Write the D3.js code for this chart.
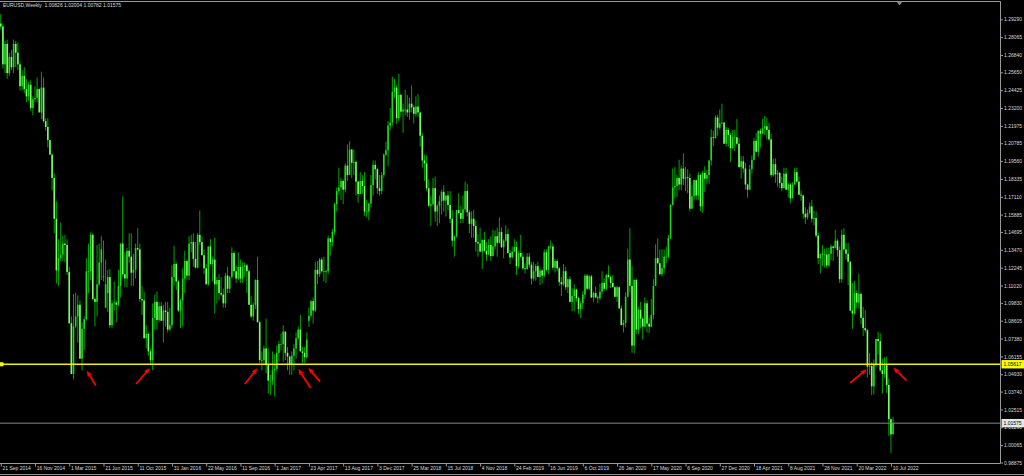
<!DOCTYPE html>
<html lang="en">
<head>
  <meta charset="UTF-8">
  <title>EURUSD Weekly</title>
  <script src="https://d3js.org/d3.v7.min.js"></script>
  <style>
    html, body {
      margin: 0;
      padding: 0;
      background: #000;
    }
    svg { display: block; }
    text { font-family: "Liberation Sans", Arial, sans-serif; }
  </style>
</head>
<body>
  <div id="container"></div>
  <script>
    // weekly OHLC, bar index 0 .. 417
    const opens = [
      1.2900,1.2880,1.2620,1.2760,1.2560,1.2670,1.2600,1.2760,1.2700,1.2620,
      1.2470,1.2540,1.2450,1.2400,1.2480,1.2320,1.2380,1.2390,1.2450,1.2290,
      1.2460,1.2230,1.2190,1.2100,1.2000,1.1840,1.1560,1.1205,1.1290,1.1315,
      1.1390,1.1380,1.1195,1.0843,1.0495,1.0822,1.0890,1.0970,1.0600,1.0805,
      1.0870,1.1200,1.1200,1.1450,1.1010,1.0990,1.1110,1.1260,1.1160,1.0950,
      1.1050,1.1160,1.0830,1.0980,1.0985,1.0970,1.1100,1.1390,1.1180,1.1150,
      1.1340,1.1300,1.1190,1.1210,1.1360,1.1350,1.1010,1.1000,1.0740,1.0770,
      1.0650,1.0590,1.0880,1.0990,1.0865,1.0960,1.0860,1.0930,1.0920,1.0800,
      1.0830,1.1160,1.1250,1.1130,1.0930,1.1000,1.1150,1.1270,1.1170,1.1390,
      1.1400,1.1285,1.1225,1.1450,1.1400,1.1310,1.1220,1.1110,1.1370,1.1250,
      1.1280,1.1110,1.1140,1.1050,1.1040,1.0980,1.1170,1.1080,1.1160,1.1325,
      1.1200,1.1150,1.1230,1.1150,1.1230,1.1240,1.1200,1.0970,1.0890,1.0970,
      1.1140,1.0850,1.0590,1.0590,1.0670,1.0560,1.0450,1.0450,1.0520,1.0530,
      1.0640,1.0700,1.0700,1.0785,1.0640,1.0615,1.0560,1.0620,1.0670,1.0740,
      1.0800,1.0650,1.0640,1.0610,1.0860,1.0895,1.0995,1.0930,1.1210,1.1180,
      1.1280,1.1200,1.1200,1.1200,1.1425,1.1400,1.1470,1.1660,1.1750,1.1775,
      1.1820,1.1760,1.1925,1.1860,1.2035,1.1945,1.1950,1.1815,1.1730,1.1820,
      1.1785,1.1610,1.1610,1.1665,1.1790,1.1930,1.1900,1.1770,1.1750,1.1860,
      1.2000,1.2030,1.2200,1.2220,1.2430,1.2460,1.2250,1.2410,1.2295,1.2310,
      1.2310,1.2290,1.2350,1.2325,1.2280,1.2330,1.2290,1.2130,1.1960,1.1940,
      1.1770,1.1650,1.1660,1.1770,1.1610,1.1650,1.1680,1.1745,1.1685,1.1720,
      1.1655,1.1560,1.1410,1.1440,1.1620,1.1600,1.1560,1.1625,1.1750,1.1605,
      1.1525,1.1560,1.1510,1.1400,1.1390,1.1335,1.1415,1.1340,1.1315,1.1380,
      1.1305,1.1370,1.1440,1.1395,1.1470,1.1365,1.1410,1.1455,1.1325,1.1295,
      1.1335,1.1365,1.1235,1.1325,1.1300,1.1220,1.1215,1.1300,1.1245,1.1150,
      1.1200,1.1235,1.1160,1.1205,1.1170,1.1330,1.1210,1.1370,1.1370,1.1225,
      1.1270,1.1220,1.1125,1.1110,1.1200,1.1090,1.1145,1.0990,1.1030,1.1075,
      1.1015,1.0940,1.0980,1.1040,1.1170,1.1080,1.1165,1.1020,1.1050,1.1020,
      1.1015,1.1060,1.1120,1.1080,1.1175,1.1160,1.1120,1.1090,1.1025,1.1090,
      1.0945,1.0830,1.0845,1.1025,1.1280,1.1100,1.0690,1.1140,1.0800,1.0935,
      1.0875,1.0820,1.0980,1.0840,1.0820,1.0900,1.1100,1.1290,1.1255,1.1180,
      1.1220,1.1300,1.1300,1.1430,1.1655,1.1775,1.1785,1.1840,1.1795,1.1905,
      1.1835,1.1845,1.1840,1.1630,1.1715,1.1825,1.1720,1.1860,1.1645,1.1875,
      1.1835,1.1860,1.1960,1.2120,1.2115,1.2255,1.2185,1.2215,1.2220,1.2075,
      1.2170,1.2135,1.2045,1.2120,1.2120,1.2075,1.1915,1.1955,1.1905,1.1795,
      1.1760,1.1900,1.1965,1.2095,1.2020,1.2165,1.2145,1.2180,1.2195,1.2170,
      1.2105,1.1860,1.1935,1.1865,1.1875,1.1805,1.1770,1.1870,1.1760,1.1795,
      1.1700,1.1795,1.1880,1.1815,1.1725,1.1720,1.1595,1.1570,1.1600,1.1645,
      1.1560,1.1565,1.1445,1.1290,1.1320,1.1315,1.1315,1.1240,1.1320,1.1370,
      1.1360,1.1410,1.1345,1.1145,1.1450,1.1350,1.1320,1.1265,1.0930,1.0910,
      1.1050,1.0985,1.1045,1.0880,1.0810,1.0795,1.0545,1.0550,1.0410,1.0560,
      1.0735,1.0720,1.0520,1.0495,1.0555,1.0420,1.0185,1.00826
    ];
    const highs = [
      1.2965,1.2900,1.2780,1.2790,1.2700,1.2720,1.2790,1.2780,1.2770,1.2640,
      1.2580,1.2600,1.2520,1.2500,1.2510,1.2400,1.2470,1.2530,1.2455,1.2570,
      1.2530,1.2250,1.2250,1.2100,1.2010,1.1870,1.1680,1.1420,1.1535,1.1445,
      1.1450,1.1420,1.1230,1.0890,1.1043,1.1052,1.1035,1.1000,1.0850,1.0890,
      1.1290,1.1390,1.1467,1.1460,1.1020,1.1380,1.1390,1.1440,1.1410,1.1280,
      1.1210,1.1215,1.1000,1.1130,1.1000,1.1210,1.1390,1.1714,1.1330,1.1360,
      1.1460,1.1460,1.1320,1.1390,1.1495,1.1390,1.1100,1.1060,1.0830,1.0780,
      1.0670,1.0980,1.1040,1.1060,1.0990,1.0990,1.0970,1.0990,1.0990,1.0950,
      1.1240,1.1375,1.1260,1.1140,1.1010,1.1220,1.1340,1.1280,1.1440,1.1450,
      1.1460,1.1400,1.1460,1.1616,1.1440,1.1350,1.1250,1.1370,1.1420,1.1300,
      1.1430,1.1160,1.1180,1.1160,1.1080,1.1190,1.1230,1.1170,1.1365,1.1340,
      1.1240,1.1330,1.1280,1.1260,1.1260,1.1250,1.1210,1.1030,1.0985,1.1145,
      1.1300,1.0860,1.0650,1.0690,1.0875,1.0670,1.0490,1.0650,1.0630,1.0690,
      1.0720,1.0775,1.0830,1.0790,1.0680,1.0620,1.0650,1.0700,1.0780,1.0820,
      1.0900,1.0680,1.0680,1.0780,1.0950,1.1000,1.1020,1.1265,1.1270,1.1290,
      1.1295,1.1300,1.1210,1.1445,1.1430,1.1490,1.1670,1.1775,1.1910,1.1840,
      1.1830,1.1940,1.2070,1.2092,1.2040,1.2035,1.1960,1.1820,1.1880,1.1860,
      1.1880,1.1690,1.1670,1.1860,1.1960,1.1960,1.1910,1.1860,1.1880,1.2010,
      1.2090,1.2230,1.2320,1.2535,1.2520,1.2480,1.2555,1.2420,1.2350,1.2445,
      1.2410,1.2390,1.2475,1.2340,1.2400,1.2415,1.2290,1.2150,1.2000,1.1995,
      1.1830,1.1720,1.1840,1.1850,1.1660,1.1720,1.1760,1.1790,1.1720,1.1750,
      1.1750,1.1620,1.1445,1.1620,1.1735,1.1650,1.1720,1.1815,1.1800,1.1620,
      1.1610,1.1620,1.1550,1.1455,1.1500,1.1420,1.1470,1.1400,1.1420,1.1440,
      1.1485,1.1480,1.1500,1.1570,1.1500,1.1420,1.1515,1.1490,1.1345,1.1370,
      1.1420,1.1405,1.1340,1.1450,1.1325,1.1255,1.1325,1.1325,1.1265,1.1265,
      1.1250,1.1265,1.1215,1.1215,1.1350,1.1350,1.1375,1.1410,1.1390,1.1285,
      1.1285,1.1230,1.1160,1.1250,1.1230,1.1150,1.1165,1.1085,1.1110,1.1080,
      1.1025,1.0995,1.1065,1.1180,1.1180,1.1175,1.1175,1.1060,1.1095,1.1035,
      1.1115,1.1200,1.1150,1.1180,1.1240,1.1170,1.1175,1.1100,1.1100,1.1095,
      1.0965,1.0865,1.1055,1.1355,1.1495,1.1235,1.1145,1.1150,1.0955,1.0990,
      1.0890,1.1020,1.1000,1.0880,1.1010,1.1145,1.1385,1.1425,1.1350,1.1350,
      1.1350,1.1370,1.1450,1.1660,1.1905,1.1915,1.1865,1.1965,1.1925,1.2010,
      1.1915,1.1900,1.1870,1.1790,1.1830,1.1830,1.1880,1.1870,1.1890,1.1920,
      1.1895,1.1965,1.2175,1.2165,1.2270,1.2275,1.2310,1.2350,1.2225,1.2190,
      1.2185,1.2150,1.2170,1.2170,1.2245,1.2115,1.1990,1.1990,1.1945,1.1800,
      1.1930,1.1995,1.2115,1.2150,1.2165,1.2180,1.2245,1.2265,1.2255,1.2220,
      1.2145,1.1975,1.1975,1.1895,1.1880,1.1850,1.1910,1.1910,1.1805,1.1805,
      1.1810,1.1910,1.1910,1.1850,1.1755,1.1725,1.1640,1.1625,1.1670,1.1690,
      1.1615,1.1610,1.1465,1.1320,1.1380,1.1355,1.1360,1.1360,1.1385,1.1375,
      1.1485,1.1420,1.1370,1.1485,1.1495,1.1395,1.1395,1.1270,1.1120,1.1135,
      1.1070,1.1185,1.1055,1.0955,1.0935,1.0805,1.0640,1.0575,1.0595,1.0735,
      1.0785,1.0775,1.0600,1.0610,1.0615,1.0465,1.0190,1.02004
    ];
    const lows = [
      1.2860,1.2590,1.2560,1.2520,1.2540,1.2580,1.2560,1.2600,1.2580,1.2440,
      1.2440,1.2420,1.2360,1.2370,1.2300,1.2270,1.2360,1.2360,1.2290,1.2245,
      1.2220,1.2165,1.2050,1.2000,1.1755,1.1460,1.1115,1.1100,1.1270,1.1270,
      1.1260,1.1175,1.0840,1.0494,1.0457,1.0810,1.0710,1.0600,1.0520,1.0660,
      1.0860,1.1050,1.1140,1.1000,1.0820,1.0890,1.1100,1.1140,1.1130,1.0950,
      1.0920,1.0810,1.0810,1.0930,1.0850,1.0960,1.1020,1.1160,1.1090,1.1090,
      1.1260,1.1100,1.1100,1.1150,1.1340,1.0990,1.0900,1.0740,1.0670,1.0620,
      1.0560,1.0520,1.0800,1.0800,1.0850,1.0860,1.0710,1.0820,1.0780,1.0790,
      1.0810,1.1100,1.1070,1.0920,1.0810,1.0820,1.1050,1.1140,1.1140,1.1330,
      1.1230,1.1220,1.1220,1.1380,1.1310,1.1180,1.1110,1.1100,1.1240,1.1130,
      1.0910,1.0980,1.1000,1.1030,1.0950,1.0950,1.1050,1.1050,1.1150,1.1170,
      1.1120,1.1140,1.1120,1.1120,1.1160,1.1050,1.0970,1.0880,1.0860,1.0940,
      1.0850,1.0570,1.0520,1.0560,1.0500,1.0360,1.0350,1.0420,1.0340,1.0510,
      1.0580,1.0660,1.0580,1.0590,1.0520,1.0490,1.0490,1.0520,1.0600,1.0730,
      1.0650,1.0570,1.0570,1.0600,1.0820,1.0880,1.0840,1.0920,1.1110,1.1160,
      1.1190,1.1130,1.1120,1.1180,1.1310,1.1370,1.1450,1.1610,1.1725,1.1690,
      1.1660,1.1740,1.1820,1.1860,1.1840,1.1860,1.1720,1.1670,1.1730,1.1730,
      1.1580,1.1570,1.1550,1.1640,1.1720,1.1830,1.1730,1.1720,1.1730,1.1840,
      1.1990,1.1920,1.2170,1.2200,1.2390,1.2210,1.2230,1.2260,1.2150,1.2270,
      1.2260,1.2240,1.2290,1.2215,1.2260,1.2260,1.2055,1.1910,1.1820,1.1750,
      1.1640,1.1510,1.1650,1.1540,1.1510,1.1530,1.1590,1.1610,1.1575,1.1620,
      1.1530,1.1370,1.1300,1.1430,1.1590,1.1530,1.1530,1.1610,1.1575,1.1460,
      1.1430,1.1430,1.1335,1.1300,1.1330,1.1215,1.1330,1.1270,1.1310,1.1270,
      1.1300,1.1350,1.1300,1.1390,1.1360,1.1290,1.1400,1.1320,1.1250,1.1290,
      1.1330,1.1175,1.1220,1.1290,1.1210,1.1185,1.1210,1.1225,1.1110,1.1135,
      1.1135,1.1160,1.1105,1.1115,1.1160,1.1200,1.1180,1.1350,1.1210,1.1190,
      1.1200,1.1100,1.1030,1.1100,1.1070,1.1050,1.0985,1.0925,1.0925,1.0990,
      1.0905,1.0880,1.0940,1.1010,1.1070,1.1070,1.1015,1.0990,1.1015,1.0980,
      1.1000,1.1040,1.1065,1.1070,1.1150,1.1085,1.1090,1.1020,1.0990,1.0945,
      1.0830,1.0780,1.0815,1.1020,1.1055,1.0640,1.0635,1.0770,1.0770,1.0810,
      1.0730,1.0815,1.0780,1.0775,1.0815,1.0870,1.1100,1.1250,1.1170,1.1165,
      1.1185,1.1255,1.1290,1.1420,1.1650,1.1700,1.1710,1.1755,1.1755,1.1790,
      1.1750,1.1735,1.1610,1.1625,1.1690,1.1690,1.1690,1.1610,1.1600,1.1745,
      1.1800,1.1800,1.1925,1.2060,1.2110,1.2130,1.2170,1.2210,1.2075,1.2055,
      1.2055,1.1950,1.2040,1.2025,1.2065,1.1910,1.1835,1.1875,1.1760,1.1705,
      1.1755,1.1870,1.1960,1.2015,1.1985,1.2050,1.2140,1.2135,1.2105,1.2095,
      1.1845,1.1850,1.1805,1.1780,1.1770,1.1750,1.1770,1.1760,1.1705,1.1665,
      1.1700,1.1790,1.1805,1.1725,1.1685,1.1560,1.1525,1.1555,1.1590,1.1535,
      1.1515,1.1430,1.1250,1.1185,1.1235,1.1225,1.1220,1.1230,1.1275,1.1270,
      1.1355,1.1300,1.1120,1.1120,1.1340,1.1280,1.1105,1.0925,1.0805,1.0900,
      1.0945,1.0945,1.0835,1.0755,1.0780,1.0470,1.0490,1.0350,1.0355,1.0545,
      1.0630,1.0510,1.0360,1.0470,1.0365,1.0070,0.9952,1.00782
    ];
    const closes = [
      1.2880,1.2620,1.2760,1.2560,1.2670,1.2600,1.2760,1.2700,1.2620,1.2470,
      1.2540,1.2450,1.2400,1.2480,1.2320,1.2380,1.2390,1.2450,1.2290,1.2460,
      1.2230,1.2190,1.2100,1.2000,1.1840,1.1560,1.1205,1.1290,1.1315,1.1390,
      1.1380,1.1195,1.0843,1.0495,1.0822,1.0890,1.0970,1.0600,1.0805,1.0870,
      1.1200,1.1200,1.1450,1.1010,1.0990,1.1110,1.1260,1.1350,1.1165,1.1110,
      1.1160,1.0830,1.0980,1.0985,1.0970,1.1100,1.1390,1.1180,1.1150,1.1340,
      1.1300,1.1190,1.1210,1.1360,1.1350,1.1010,1.1000,1.0740,1.0770,1.0650,
      1.0590,1.0880,1.0990,1.0865,1.0960,1.0860,1.0930,1.0920,1.0800,1.0830,
      1.1160,1.1250,1.1130,1.0930,1.1000,1.1150,1.1270,1.1170,1.1390,1.1400,
      1.1285,1.1225,1.1450,1.1400,1.1310,1.1220,1.1110,1.1370,1.1250,1.1280,
      1.1110,1.1140,1.1050,1.1040,1.0980,1.1170,1.1080,1.1160,1.1325,1.1200,
      1.1150,1.1230,1.1150,1.1230,1.1240,1.1200,1.0970,1.0890,1.0970,1.1140,
      1.0850,1.0590,1.0590,1.0670,1.0560,1.0450,1.0450,1.0520,1.0530,1.0640,
      1.0700,1.0700,1.0785,1.0640,1.0615,1.0560,1.0620,1.0670,1.0740,1.0800,
      1.0650,1.0640,1.0610,1.0730,1.0895,1.0995,1.0930,1.1210,1.1180,1.1280,
      1.1200,1.1200,1.1200,1.1425,1.1400,1.1470,1.1660,1.1750,1.1775,1.1820,
      1.1760,1.1925,1.1860,1.2035,1.1945,1.1950,1.1815,1.1730,1.1820,1.1785,
      1.1610,1.1610,1.1665,1.1790,1.1930,1.1900,1.1770,1.1750,1.1860,1.2000,
      1.2030,1.2200,1.2220,1.2430,1.2460,1.2250,1.2410,1.2295,1.2310,1.2310,
      1.2290,1.2350,1.2325,1.2280,1.2330,1.2290,1.2130,1.1960,1.1940,1.1770,
      1.1650,1.1660,1.1770,1.1610,1.1650,1.1680,1.1745,1.1685,1.1720,1.1655,
      1.1560,1.1410,1.1440,1.1620,1.1600,1.1560,1.1625,1.1750,1.1605,1.1525,
      1.1560,1.1510,1.1400,1.1390,1.1335,1.1415,1.1340,1.1315,1.1380,1.1305,
      1.1370,1.1440,1.1395,1.1470,1.1365,1.1410,1.1455,1.1325,1.1295,1.1335,
      1.1365,1.1235,1.1325,1.1300,1.1220,1.1215,1.1300,1.1245,1.1150,1.1200,
      1.1235,1.1160,1.1205,1.1170,1.1330,1.1210,1.1370,1.1370,1.1225,1.1270,
      1.1220,1.1125,1.1110,1.1200,1.1090,1.1145,1.0990,1.1030,1.1075,1.1015,
      1.0940,1.0980,1.1040,1.1170,1.1080,1.1165,1.1020,1.1050,1.1020,1.1015,
      1.1060,1.1120,1.1080,1.1175,1.1160,1.1120,1.1090,1.1025,1.1090,1.0945,
      1.0830,1.0845,1.1025,1.1280,1.1100,1.0690,1.1140,1.0800,1.0935,1.0875,
      1.0820,1.0980,1.0840,1.0820,1.0900,1.1100,1.1290,1.1255,1.1180,1.1220,
      1.1300,1.1300,1.1430,1.1655,1.1775,1.1785,1.1840,1.1795,1.1905,1.1835,
      1.1845,1.1840,1.1630,1.1715,1.1825,1.1720,1.1860,1.1645,1.1875,1.1835,
      1.1860,1.1960,1.2120,1.2115,1.2255,1.2185,1.2215,1.2220,1.2075,1.2170,
      1.2135,1.2045,1.2120,1.2120,1.2075,1.1915,1.1955,1.1905,1.1795,1.1760,
      1.1900,1.1965,1.2095,1.2020,1.2165,1.2145,1.2180,1.2195,1.2170,1.2105,
      1.1860,1.1935,1.1865,1.1875,1.1805,1.1770,1.1870,1.1760,1.1795,1.1700,
      1.1795,1.1880,1.1815,1.1725,1.1720,1.1595,1.1570,1.1600,1.1645,1.1560,
      1.1565,1.1445,1.1290,1.1320,1.1315,1.1315,1.1240,1.1320,1.1370,1.1360,
      1.1410,1.1345,1.1145,1.1450,1.1350,1.1320,1.1265,1.0930,1.0910,1.1050,
      1.0985,1.1045,1.0880,1.0810,1.0795,1.0545,1.0550,1.0410,1.0560,1.0735,
      1.0720,1.0520,1.0495,1.0555,1.0420,1.0185,1.0080,1.01575
    ];

    const priceTicks = [1.29290, 1.28065, 1.26840, 1.25650, 1.24425, 1.23200, 1.21975,
      1.20785, 1.19560, 1.18335, 1.17110, 1.15885, 1.14695, 1.13470, 1.12245, 1.11020,
      1.09830, 1.08605, 1.07380, 1.06155, 1.04930, 1.03740, 1.02515, 1.01290, 1.00065, 0.98875];

    const dateLabels = ['21 Sep 2014', '16 Nov 2014', '1 Mar 2015', '21 Jun 2015', '11 Oct 2015',
      '31 Jan 2016', '22 May 2016', '11 Sep 2016', '1 Jan 2017', '23 Apr 2017', '13 Aug 2017',
      '3 Dec 2017', '25 Mar 2018', '15 Jul 2018', '4 Nov 2018', '24 Feb 2019', '16 Jun 2019',
      '6 Oct 2019', '26 Jan 2020', '17 May 2020', '6 Sep 2020', '27 Dec 2020', '18 Apr 2021',
      '8 Aug 2021', '28 Nov 2021', '20 Mar 2022', '10 Jul 2022'];
    const dateTickBars = [0, 16, 32, 48, 64, 80, 96, 112, 128, 144, 160, 176, 192, 208, 224,
      240, 256, 272, 288, 304, 320, 336, 352, 368, 384, 400, 416];

    const title = 'EURUSD,Weekly  1.00826 1.02004 1.00782 1.01575';
    const supportLevel = 1.05617;
    const bidLevel = 1.01575;

    // red arrows: [bar, price] of tail and tip
    const arrowTails = [[44.4, 1.0415], [63.2, 1.0426], [114.1, 1.0426], [144.8, 1.0399],
      [149.2, 1.0442], [396.9, 1.0433], [423.3, 1.0449]];
    const arrowTips = [[40.2, 1.0518], [69.7, 1.0536], [119.9, 1.0534], [139.0, 1.0530],
      [143.7, 1.0538], [404.6, 1.0527], [417.1, 1.0538]];

    // layout
    const width = 1024, height = 476;
    const plotRight = 1000, plotTop = 1.5, plotBottom = 463.5;

    const svg = d3.select('#container').append('svg')
      .attr('width', width).attr('height', height)
      .style('background', '#000');

    const xScale = d3.scaleLinear().domain([0, 417]).range([0.76, 893.1]);
    const yScale = d3.scaleLinear().domain([0.98875, 1.29290]).range([462.5, 19.3]);

    svg.append('clipPath').attr('id', 'plot-clip')
      .append('rect').attr('x', 0).attr('y', plotTop).attr('width', plotRight).attr('height', plotBottom - plotTop);

    const bars = d3.range(opens.length).map(i => ({
      i: i, o: opens[i], h: highs[i], l: lows[i], c: closes[i]
    }));

    const plot = svg.append('g').attr('clip-path', 'url(#plot-clip)');

    // wicks
    plot.selectAll('.wick').data(bars).enter().append('line')
      .attr('class', 'wick')
      .attr('x1', d => xScale(d.i)).attr('x2', d => xScale(d.i))
      .attr('y1', d => yScale(d.h)).attr('y2', d => yScale(d.l))
      .attr('stroke', '#00a400').attr('stroke-width', 1);

    // bodies
    plot.selectAll('.body').data(bars).enter().append('rect')
      .attr('class', 'body')
      .attr('x', d => xScale(d.i) - 0.8)
      .attr('width', 1.6)
      .attr('y', d => yScale(Math.max(d.o, d.c)))
      .attr('height', d => Math.max(0.8, Math.abs(yScale(d.o) - yScale(d.c))))
      .attr('fill', d => d.c >= d.o ? '#1ed81e' : '#78ff64');

    // horizontal level line (yellow)
    const ySup = yScale(supportLevel);
    svg.append('line')
      .attr('x1', 0).attr('x2', plotRight).attr('y1', ySup).attr('y2', ySup)
      .attr('stroke', '#f2f200').attr('stroke-width', 1.3);
    svg.append('rect').attr('x', 0).attr('y', ySup - 2).attr('width', 3.5).attr('height', 4)
      .attr('fill', '#ffff00');

    // bid line
    const yBid = yScale(bidLevel);
    svg.append('line')
      .attr('x1', 0).attr('x2', plotRight).attr('y1', yBid).attr('y2', yBid)
      .attr('stroke', '#7f8792').attr('stroke-width', 1);

    // arrows
    const arrowG = svg.append('g');
    arrowTails.forEach((t, k) => {
      const x1 = xScale(t[0]), y1 = yScale(t[1]);
      const x2 = xScale(arrowTips[k][0]), y2 = yScale(arrowTips[k][1]);
      const ang = Math.atan2(y2 - y1, x2 - x1);
      const headLen = 6, headW = 2.4;
      const bx = x2 - headLen * Math.cos(ang), by = y2 - headLen * Math.sin(ang);
      arrowG.append('line')
        .attr('x1', x1).attr('y1', y1).attr('x2', bx).attr('y2', by)
        .attr('stroke', '#ff0000').attr('stroke-width', 1.8);
      const px = -Math.sin(ang) * headW, py = Math.cos(ang) * headW;
      arrowG.append('path')
        .attr('d', `M${x2},${y2}L${bx + px},${by + py}L${bx - px},${by - py}Z`)
        .attr('fill', '#ff0000');
    });

    // frame
    const frame = svg.append('g').attr('stroke', '#9a9a9a').attr('stroke-width', 1);
    frame.append('line').attr('x1', 0).attr('x2', plotRight + 0.5).attr('y1', plotTop).attr('y2', plotTop);
    frame.append('line').attr('x1', plotRight + 0.5).attr('x2', plotRight + 0.5).attr('y1', plotTop).attr('y2', plotBottom);
    frame.append('line').attr('x1', 0).attr('x2', plotRight + 0.5).attr('y1', plotBottom).attr('y2', plotBottom);
    frame.append('line').attr('x1', 0).attr('x2', width).attr('y1', 474.5).attr('y2', 474.5)
      .attr('stroke', '#8a8a8a');

    // chart shift marker
    const shiftX = xScale(420);
    svg.append('path')
      .attr('d', `M${shiftX - 3},${plotTop}L${shiftX + 3},${plotTop}L${shiftX},${plotTop + 4}Z`)
      .attr('fill', '#8a8a8a');

    // price axis
    const yAxis = d3.axisRight(yScale).tickValues(priceTicks)
      .tickFormat(d3.format('.5f')).tickSize(2.5).tickPadding(1);
    const yAxisG = svg.append('g').attr('transform', `translate(${plotRight + 0.5},0)`).call(yAxis);
    yAxisG.select('.domain').remove();
    yAxisG.selectAll('line').attr('stroke', '#9a9a9a');
    yAxisG.selectAll('text').attr('fill', '#d8d8d8').style('font-size', '5px')
      .style('font-family', '"Liberation Sans", Arial, sans-serif');

    // time axis
    const xAxis = d3.axisBottom(xScale).tickValues(dateTickBars)
      .tickFormat((d, i) => dateLabels[i]).tickSize(3).tickPadding(1);
    const xAxisG = svg.append('g').attr('transform', `translate(0,${plotBottom})`).call(xAxis);
    xAxisG.select('.domain').remove();
    xAxisG.selectAll('line').attr('stroke', '#9a9a9a');
    xAxisG.selectAll('text')
      .attr('text-anchor', 'start').attr('x', 1.2).attr('y', 3.2)
      .attr('fill', '#d8d8d8').style('font-size', '5px')
      .style('font-family', '"Liberation Sans", Arial, sans-serif');

    // price labels on the right
    const tag = (yv, label, bg, fg) => {
      const yy = yScale(yv);
      svg.append('rect').attr('x', plotRight + 1.5).attr('y', yy - 4.2)
        .attr('width', width - plotRight - 1.5).attr('height', 8.4).attr('fill', bg);
      svg.append('text').attr('x', plotRight + 3.5).attr('y', yy).attr('dy', '0.35em')
        .attr('fill', fg).style('font-size', '5px').text(label);
    };
    tag(supportLevel, d3.format('.5f')(supportLevel), '#ffff00', '#000');
    tag(bidLevel, d3.format('.5f')(bidLevel), '#e6e6e6', '#000');

    // header
    svg.append('text').attr('x', 3).attr('y', 7.4)
      .attr('fill', '#dcdcdc').style('font-size', '5px')
      .attr('xml:space', 'preserve').style('white-space', 'pre')
      .text(title);
  </script>
</body>
</html>
